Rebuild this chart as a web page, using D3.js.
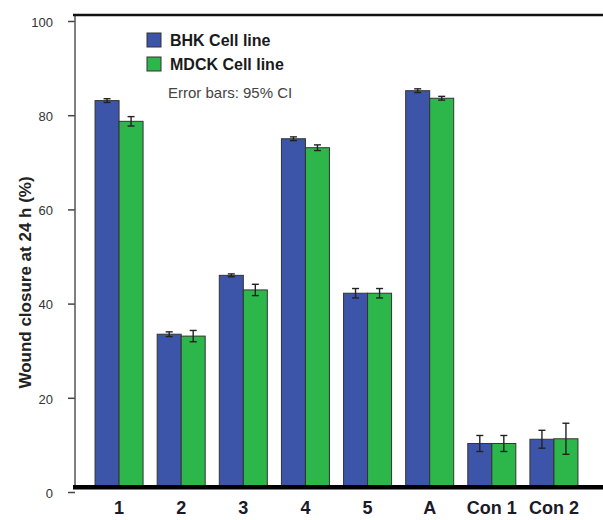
<!DOCTYPE html>
<html>
<head>
<meta charset="utf-8">
<script src="https://cdn.jsdelivr.net/npm/d3@7/dist/d3.min.js"></script>
<style>
  html, body { margin: 0; padding: 0; background: #fff; }
  svg { display: block; }
</style>
</head>
<body>
<div id="chart"></div>
<script>
// data
const groups = ["1", "2", "3", "4", "5", "A", "Con 1", "Con 2"];
const seriesNames = ["BHK Cell line", "MDCK Cell line"];
const bhk = [83.1, 33.5, 46.0, 75.0, 42.2, 85.2, 10.3, 11.2];
const mdck = [78.7, 33.1, 42.9, 73.1, 42.2, 83.6, 10.3, 11.3];
const bhkCI = [0.4, 0.5, 0.3, 0.4, 1.0, 0.4, 1.7, 1.9];
const mdckCI = [1.0, 1.2, 1.2, 0.6, 1.0, 0.4, 1.7, 3.3];
const yTicks = [0, 20, 40, 60, 80, 100];

const colors = ["#3d55a8", "#2db64a"];
const W = 603, H = 520;

const rows = groups.map((g, i) => ({
  group: g,
  values: [
    { key: seriesNames[0], v: bhk[i], ci: bhkCI[i] },
    { key: seriesNames[1], v: mdck[i], ci: mdckCI[i] }
  ]
}));

const svg = d3.select("#chart").append("svg")
  .attr("width", W).attr("height", H)
  .style("font-family", "'Liberation Sans', Arial, sans-serif");

const y = d3.scaleLinear().domain([0, 100]).range([492, 21]);
const floorY = y(1); // the heavy base line sits just above zero

const x = d3.scaleBand().domain(groups).range([88, 585])
  .paddingInner(0.227).paddingOuter(0.1135);
const xs = d3.scaleBand().domain(seriesNames).range([0, x.bandwidth()]);

// y axis
const yAxis = svg.append("g")
  .attr("transform", "translate(75,0)")
  .call(d3.axisLeft(y).tickValues(yTicks).tickSize(7).tickPadding(15));
yAxis.select(".domain").remove();
yAxis.selectAll(".tick line").attr("stroke", "#444").attr("stroke-width", 1.5);
yAxis.selectAll(".tick text")
  .attr("fill", "#333").style("font-size", "13px")
  .attr("dy", "0.4em");

svg.append("line")
  .attr("x1", 75).attr("x2", 75)
  .attr("y1", 15).attr("y2", floorY)
  .attr("stroke", "#555").attr("stroke-width", 1.5);

// top frame line
svg.append("line")
  .attr("x1", 73).attr("x2", W)
  .attr("y1", 15).attr("y2", 15)
  .attr("stroke", "#111").attr("stroke-width", 2.5);

svg.append("text")
  .attr("transform", `translate(31,${(y(0) + y(100)) / 2 + 26}) rotate(-90)`)
  .attr("text-anchor", "middle")
  .style("font-size", "17px").style("font-weight", "bold")
  .attr("fill", "#222")
  .text("Wound closure at 24 h (%)");

// bars
const g = svg.selectAll(".grp").data(rows).enter().append("g")
  .attr("transform", d => `translate(${x(d.group)},0)`);

g.selectAll("rect").data(d => d.values).enter().append("rect")
  .attr("x", d => xs(d.key))
  .attr("y", d => y(d.v))
  .attr("width", xs.bandwidth())
  .attr("height", d => floorY - y(d.v))
  .attr("fill", (d, i) => colors[i])
  .attr("stroke", "#333").attr("stroke-width", 1);

// error bars
const eb = g.selectAll(".eb").data(d => d.values).enter().append("g")
  .attr("stroke", "#222").attr("stroke-width", 1.4);
eb.append("line")
  .attr("x1", d => xs(d.key) + xs.bandwidth() / 2)
  .attr("x2", d => xs(d.key) + xs.bandwidth() / 2)
  .attr("y1", d => y(d.v + d.ci)).attr("y2", d => y(d.v - d.ci));
[1, -1].forEach(s => {
  eb.append("line")
    .attr("x1", d => xs(d.key) + xs.bandwidth() / 2 - 3.5)
    .attr("x2", d => xs(d.key) + xs.bandwidth() / 2 + 3.5)
    .attr("y1", d => y(d.v + s * d.ci)).attr("y2", d => y(d.v + s * d.ci));
});

// heavy base line
svg.append("line")
  .attr("x1", 73).attr("x2", W)
  .attr("y1", floorY).attr("y2", floorY)
  .attr("stroke", "#000").attr("stroke-width", 4.5);

// category labels
svg.selectAll(".cat").data(groups).enter().append("text")
  .attr("x", d => x(d) + x.bandwidth() / 2)
  .attr("y", 514)
  .attr("text-anchor", "middle")
  .style("font-size", "18px").style("font-weight", "bold")
  .attr("fill", "#1a1a2a")
  .text(d => d);

// legend
const leg = svg.selectAll(".leg").data(seriesNames).enter().append("g")
  .attr("transform", (d, i) => `translate(147,${33 + i * 24})`);
leg.append("rect")
  .attr("width", 14).attr("height", 14)
  .attr("fill", (d, i) => colors[i])
  .attr("stroke", "#333").attr("stroke-width", 1);
leg.append("text")
  .attr("x", 23).attr("y", 13)
  .style("font-size", "16px").style("font-weight", "bold")
  .attr("fill", "#1a1a1a")
  .text(d => d);

svg.append("text")
  .attr("x", 168).attr("y", 98)
  .style("font-size", "15px")
  .attr("fill", "#444")
  .text("Error bars: 95% CI");
</script>
</body>
</html>
